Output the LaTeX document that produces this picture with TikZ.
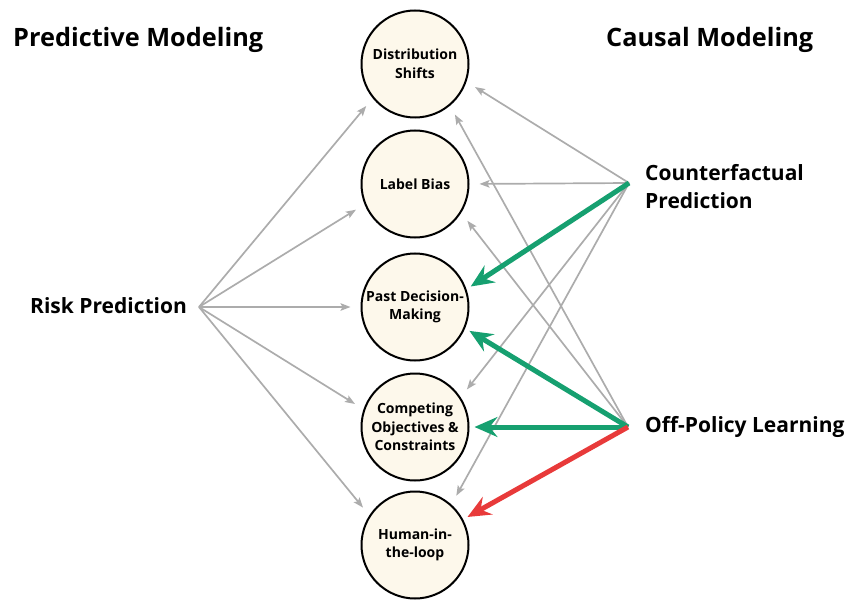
\documentclass[tikz,border=0pt]{standalone}
\usepackage{fontspec}
\setmainfont{Open Sans}
\usetikzlibrary{arrows.meta}
\definecolor{circlefill}{RGB}{253,248,235}
\definecolor{linkgray}{RGB}{172,172,172}
\definecolor{linkgreen}{RGB}{22,160,112}
\definecolor{linkred}{RGB}{232,58,58}
\tikzset{
  topic/.style={circle, draw, line width=2pt, fill=circlefill, minimum size=107pt,
    inner sep=0pt, align=center, font=\fontsize{14}{18.5}\selectfont\bfseries},
  heading/.style={anchor=base west, inner sep=0pt, font=\fontsize{25.3}{28}\selectfont\bfseries},
  method/.style={anchor=west, inner sep=0pt, align=left, font=\fontsize{21}{28}\selectfont\bfseries},
  thin link/.style={draw=linkgray, line width=1.7pt,
    -{Stealth[length=10pt,width=7.5pt,inset=2pt]}, shorten >=10pt},
  thick link/.style={line width=5pt, -{Stealth[length=23pt,width=20pt,inset=8pt]}, shorten >=5pt},
}

\begin{document}
\begin{tikzpicture}[x=1pt, y=-1pt]
  \useasboundingbox (0,0) rectangle (848,604);
  % column headings
  \node[heading] (pm) at (13,47) {Predictive Modeling};
  \node[heading] (cm) at (606,47) {Causal Modeling};

  % the five topics
  \node[topic] (ds) at (415,64) {Distribution\\Shifts};
  \node[topic] (lb) at (415,184) {Label Bias};
  \node[topic] (pdm) at (415,307) {Past Decision-\\Making};
  \node[topic] (coc) at (415,427) {Competing\\Objectives \&\\Constraints};
  \node[topic] (hil) at (415,545) {Human-in-\\the-loop};

  % methods
  \node[method] (risk) at (30,306) {Risk Prediction};
  \node[method] (cfp) at (645,187) {Counterfactual\\Prediction};
  \node[method] (opl) at (645,427) {Off-Policy Learning};
  \coordinate (rp) at (199,307);
  \coordinate (cf) at (629,183);
  \coordinate (ol) at (628,427);

  % predictive side
  \foreach \t/\a in {ds/219, lb/202, pdm/180, coc/161, hil/147}
    \draw[thin link] (rp) -- (\t.\a);

  % causal side
  \foreach \t/\a in {ds/-19, lb/0, coc/33, hil/48}
    \draw[thin link] (cf) -- (\t.\a);
  \foreach \t/\a in {ds/-50, lb/-32}
    \draw[thin link] (ol) -- (\t.\a);

  \draw[thick link, linkgreen] (cf) -- (pdm.19);
  \draw[thick link, linkgreen] (ol) -- (pdm.-23);
  \draw[thick link, linkgreen] (ol) -- (coc.0);
  \draw[thick link, linkred] (ol) -- (hil.28);
\end{tikzpicture}
\end{document}
